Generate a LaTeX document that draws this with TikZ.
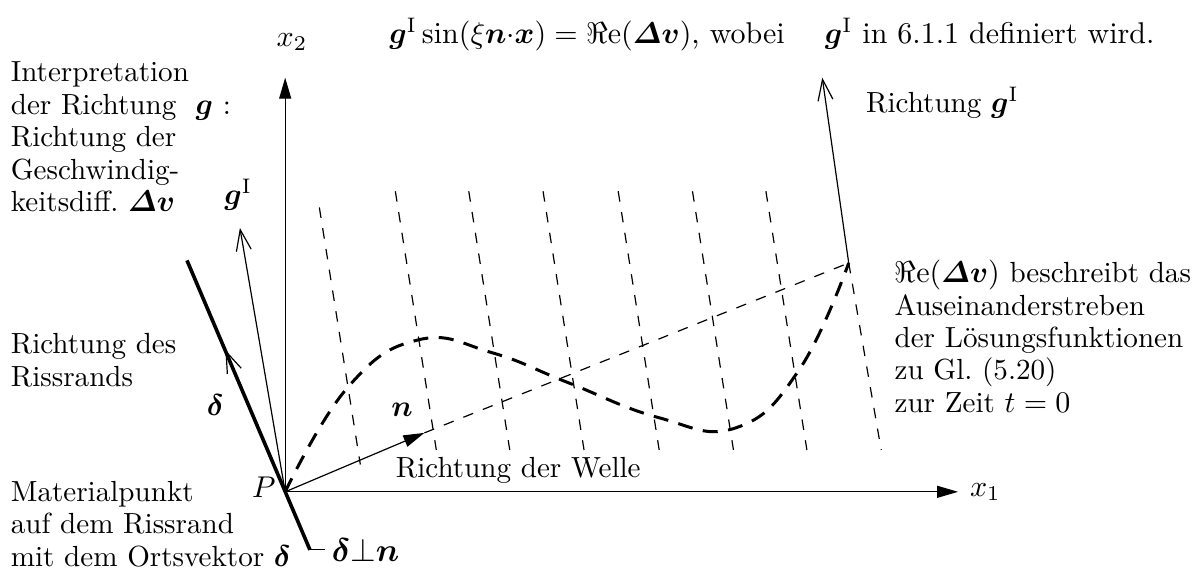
\documentclass[tikz,border=0pt]{standalone}
\usepackage{amsmath,amssymb}
\usetikzlibrary{arrows.meta}

\tikzset{
  vec/.style={-{Straight Barb[length=7pt,width=5pt]}},
  axis/.style={-{Triangle[length=7pt,width=4pt]}},
  front/.style={dash pattern=on 3.5pt off 3.5pt},
  wave/.style={line width=1pt, dash pattern=on 5pt off 3.5pt},
  txt/.style={align=left, inner sep=0pt, anchor=north west}
}

\begin{document}
\begin{tikzpicture}[font=\fontsize{9.7}{10.8}\selectfont]
\useasboundingbox (-3.34,-0.91) rectangle (10.62,5.76);

\coordinate (P) at (0,0);
\coordinate (X1) at (7.88,0);
\coordinate (X2) at (0,4.85);
\coordinate (E) at (6.60,2.68);
\coordinate (N) at (1.63,0.69);
\coordinate (G) at (-0.53,3.09);
\coordinate (GE) at (6.29,4.85);
\coordinate (R1) at (-1.15,2.71);
\coordinate (R2) at (0.29,-0.68);
\coordinate (R3) at (0.47,-0.68);
\coordinate (D) at (-0.70,1.66);

% wave fronts
\draw[front] (0.40,3.33) -- (0.88,0.32);
\draw[front] (1.29,3.52) -- (1.77,0.49);
\draw[front] (2.15,3.52) -- (2.63,0.49);
\draw[front] (3.02,3.52) -- (3.50,0.49);
\draw[front] (3.90,3.52) -- (4.38,0.49);
\draw[front] (4.77,3.52) -- (5.25,0.49);
\draw[front] (5.63,3.52) -- (6.11,0.49);
\draw[front] (E) -- (6.98,0.49);
\draw[front] (N) -- (E);

% axes
\draw[axis] (P) -- (X1);
\draw[axis] (P) -- (X2);
\node (x1) at (8.20,0) {$x_1$};
\node (x2) at (0.08,5.27) {$x_2$};

% crack edge
\draw[line width=1.2pt] (R1) -- (R2);
\draw[vec] (P) -- (D);
\draw (R2) -- (R3);

\draw[vec] (P) -- (G);
\draw[vec] (E) -- (GE);
\draw[axis] (P) -- (N);

\draw[wave] plot[smooth, tension=0.75] coordinates {(P) (0.73,1.22) (1.56,1.78) (2.42,1.63) (3.31,1.28) (4.37,0.87) (5.28,0.75) (6.02,1.43) (E)};

\node (p) at (-0.25,0.05) {$P$};
\node (d) at (-0.82,1.02) {$\boldsymbol{\delta}$};
\node (n) at (1.37,0.96) {$\boldsymbol{n}$};
\node (g) at (-0.55,3.48) {$\boldsymbol{g}^{\mathrm{I}}$};
\node[anchor=west, inner sep=2pt, font=\fontsize{10.5}{12}\selectfont] (perp) at (R3) {$\boldsymbol{\delta}{\perp}\boldsymbol{n}$};
\node (welle) at (2.73,0.25) {Richtung der Welle};
\node[anchor=west] (rg) at (6.68,4.56) {Richtung $\boldsymbol{g}^{\mathrm{I}}$};

\node[font=\fontsize{10}{12}\selectfont] (eq) at (5.70,5.35) {$\boldsymbol{g}^{\mathrm{I}}\sin(\xi\boldsymbol{n}{\cdot}\boldsymbol{x})=\Re\mathrm{e}(\boldsymbol{\varDelta v})$,\ wobei\quad\ $\boldsymbol{g}^{\mathrm{I}}$ in 6.1.1 definiert wird.};

\node[txt] (interp) at (-3.22,5.04) {Interpretation\\der Richtung\ \ $\boldsymbol{g}$\ :\\Richtung der\\Geschwindig-\\keitsdiff.\ $\boldsymbol{\varDelta v}$};
\node[txt] (rand) at (-3.22,1.86) {Richtung des\\Rissrands};
\node[txt] (mat) at (-3.22,0.13) {Materialpunkt\\auf dem Rissrand\\mit dem Ortsvektor $\boldsymbol{\delta}$};
\node[txt] (re) at (7.13,2.72) {$\Re\mathrm{e}(\boldsymbol{\varDelta v})$ beschreibt das\\Auseinanderstreben\\der Lösungsfunktionen\\zu Gl.\ (5.20)\\zur Zeit $t=0$};
\end{tikzpicture}
\end{document}
